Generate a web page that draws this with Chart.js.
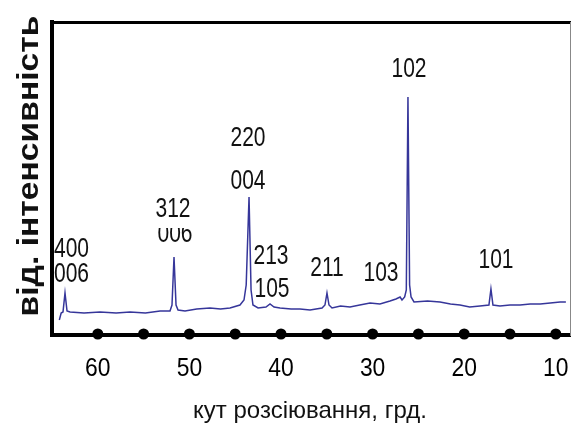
<!DOCTYPE html>
<html>
<head>
<meta charset="utf-8">
<script src="https://cdn.jsdelivr.net/npm/chart.js@4.4.1/dist/chart.umd.min.js"></script>
<style>
    body { margin: 0; background: #fff; }
</style>
</head>
<body>
<canvas id="graphXrd" width="571" height="426"></canvas>
<script>
// кут 2θ, градуси
var kuty = [64.2, 64.0, 63.8, 63.58, 63.36, 63.03, 61.5, 59.76, 58.0, 56.48, 54.8, 53.2, 52.12, 51.9, 51.68, 51.46, 51.24,
    50.48, 49.2, 47.75, 46.6, 45.57, 44.48, 44.04, 43.8, 43.49, 43.27, 43.06, 42.5, 41.64, 41.2, 40.76, 40.1,
    38.9, 37.93, 36.83, 35.52, 35.2, 34.98, 34.76, 34.43, 33.5, 32.47, 31.4, 30.28, 29.2, 28.1, 27.45, 27.0, 26.79, 26.5,
    26.32, 26.14, 25.96, 25.8, 25.48, 24.0, 22.64, 21.5, 20.46, 19.4, 18.28, 17.3, 17.08, 16.86, 16.1, 15.0, 13.9, 12.8, 11.7, 10.6, 9.53, 8.9];
// відносна інтенсивність
var intensyvnist = [15, 22, 23, 42, 24, 23, 22, 23, 22, 23, 22, 24, 24, 30, 78, 30, 25,
    24, 26, 27, 26, 27, 30, 35, 50, 138, 45, 30, 27, 28, 31, 28, 27,
    26, 26, 25, 27, 30, 42, 30, 27, 29, 28, 30, 32, 31, 34, 36, 38, 35, 38,
    45, 238, 50, 38, 33, 34, 33, 31, 30, 28, 29, 30, 46, 30, 29, 30, 30, 31, 31, 32, 33, 33];

var tickKuty = [60, 55, 50, 45, 40, 35, 30, 25, 20, 15, 10];
var tickPidpysy = ['60', '', '50', '', '40', '', '30', '', '20', '', '10'];

var pikPidpysy = ['400', '006', '312', '006', '220', '004', '213', '105', '211', '103', '102', '101'];
var pikKuty = [64.78, 64.78, 51.79, 51.57, 43.6, 43.6, 41.09, 40.98, 34.98, 29.08, 26.03, 16.53];
var pikVysoty = [86, 61, 126, 101, 197, 154, 79, 46, 67, 62, 266, 75];

var nazvaX = 'кут розсіювання, грд.';
var nazvaY = 'від. інтенсивність';

var shryft = "Arial, 'Liberation Sans', sans-serif";

// вузький текст: малюємо звичайним шрифтом зі стисканням по горизонталі
function vuzkyiTekst(ctx, tekst, x, y, stysk) {
    ctx.save();
    ctx.translate(x, y);
    ctx.scale(stysk, 1);
    ctx.fillText(tekst, 0, 0);
    ctx.restore();
}

var dekorPlugin = {
    id: 'dekor',
    afterDatasetsDraw: function (chart) {
        var ctx = chart.ctx;
        var sx = chart.scales.x;
        var sy = chart.scales.y;
        var area = chart.chartArea;

        // крапки-поділки на осі та підписи
        ctx.save();
        ctx.fillStyle = '#000';
        ctx.font = '26px ' + shryft;
        ctx.textAlign = 'center';
        ctx.textBaseline = 'alphabetic';
        for (var i = 0; i < tickKuty.length; i++) {
            var tx = sx.getPixelForValue(tickKuty[i]);
            ctx.beginPath();
            ctx.arc(tx, area.bottom - 1, 5.5, 0, Math.PI * 2);
            ctx.fill();
            if (tickPidpysy[i]) {
                vuzkyiTekst(ctx, tickPidpysy[i], tx, 376, 0.88);
            }
        }
        ctx.restore();

        // підписи піків
        ctx.save();
        ctx.fillStyle = '#111';
        ctx.font = '28px ' + shryft;
        ctx.textBaseline = 'middle';
        for (var j = 0; j < pikPidpysy.length; j++) {
            var px = sx.getPixelForValue(pikKuty[j]);
            var py = sy.getPixelForValue(pikVysoty[j]);
            ctx.textAlign = j < 2 ? 'left' : 'center';
            ctx.save();
            if (j === 3) {
                ctx.beginPath();
                ctx.rect(px - 30, py - 6, 60, 30);
                ctx.clip();
            }
            vuzkyiTekst(ctx, pikPidpysy[j], px, py, 0.75);
            ctx.restore();
        }
        ctx.restore();

        // назви осей
        ctx.save();
        ctx.fillStyle = '#111';
        ctx.textAlign = 'center';
        ctx.textBaseline = 'alphabetic';
        ctx.font = '24px ' + shryft;
        ctx.fillText(nazvaX, 310, 418);
        ctx.translate(38, 166);
        ctx.rotate(-Math.PI / 2);
        ctx.font = 'bold 29px ' + shryft;
        vuzkyiTekst(ctx, nazvaY, 0, 0, 1.16);
        ctx.restore();
    }
};

new Chart(document.getElementById('graphXrd').getContext('2d'), {
    type: 'line',
    data: {
        datasets: [{
            data: kuty.map(function (k, i) { return {x: k, y: intensyvnist[i]}; }),
            borderColor: '#36369a',
            borderWidth: 1.5,
            pointRadius: 0,
            tension: 0,
            fill: false
        }]
    },
    options: {
        responsive: false,
        animation: false,
        devicePixelRatio: 1,
        layout: {padding: {left: 52, top: 22, right: 1, bottom: 0}},
        plugins: {legend: {display: false}, tooltip: {enabled: false}},
        scales: {
            x: {
                type: 'linear',
                reverse: true,
                min: 8.45,
                max: 65,
                grid: {display: false},
                border: {display: true, width: 4, color: '#000'},
                ticks: {display: false},
                afterBuildTicks: function (s) {
                    s.ticks = tickKuty.map(function (v) { return {value: v}; });
                },
                afterFit: function (s) {
                    s.height = 91;
                    s.paddingLeft = 0;
                    s.paddingRight = 0;
                }
            },
            xTop: {
                type: 'linear',
                position: 'top',
                grid: {display: false},
                ticks: {display: false},
                border: {display: true, width: 3, color: '#000'},
                afterFit: function (s) { s.height = 0; s.paddingLeft = 0; s.paddingRight = 0; }
            },
            y: {
                min: 0,
                max: 313,
                grid: {display: false},
                ticks: {display: false},
                border: {display: true, width: 4, color: '#000'},
                afterFit: function (s) { s.width = 0; s.paddingTop = 0; s.paddingBottom = 0; }
            },
            yRight: {
                position: 'right',
                grid: {display: false},
                ticks: {display: false},
                border: {display: true, width: 1, color: '#888'},
                afterFit: function (s) { s.width = 0; s.paddingTop = 0; s.paddingBottom = 0; }
            }
        }
    },
    plugins: [dekorPlugin]
});
</script>
</body>
</html>
